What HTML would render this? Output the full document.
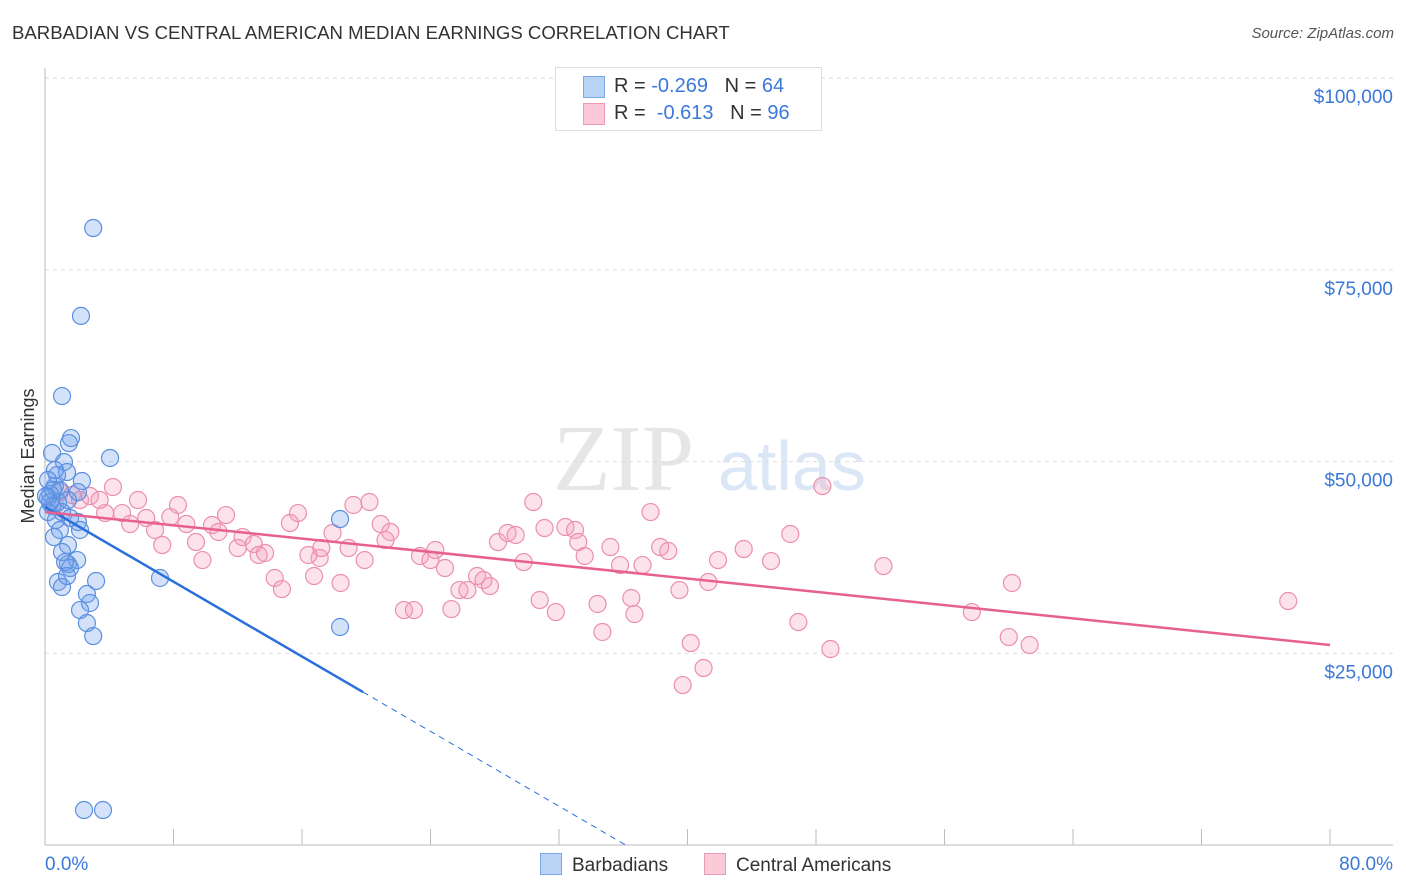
<!DOCTYPE html>
<html><head><meta charset="utf-8"><style>
body{margin:0;background:#fff;font-family:"Liberation Sans",sans-serif}
#wrap{position:relative;width:1406px;height:892px}
.t{position:absolute;white-space:nowrap}
</style></head><body>
<div id="wrap">
<div class="t" style="left:12px;top:22px;font-size:18.6px;color:#333">BARBADIAN VS CENTRAL AMERICAN MEDIAN EARNINGS CORRELATION CHART</div>
<div class="t" style="right:12px;top:25px;font-size:15px;color:#555;font-style:italic">Source: ZipAtlas.com</div>
<svg id="svg" width="1406" height="892" style="position:absolute;left:0;top:0"></svg>
</div>
<script>
const yTicks=[25000,50000,75000,100000];
const yTickLabels=["$25,000","$50,000","$75,000","$100,000"];
const xTickLabels=["0.0%","80.0%"];
const blueX=[3.0,2.24,1.06,1.62,1.49,4.05,0.44,1.18,1.37,0.75,2.30,0.62,0.93,0.31,2.05,0.19,0.81,1.43,0.44,1.06,0.19,0.68,1.56,2.05,0.93,0.56,2.18,1.43,1.06,2.0,1.43,1.56,1.25,3.18,0.81,1.06,1.37,2.61,2.80,2.18,2.61,3.0,7.16,18.37,18.37,2.43,3.61,0.62,0.19,0.31,0.5,0.06];
const blueY=[80460,69000,58550,53070,52420,50470,51120,49950,48640,48250,47470,46810,46290,45770,46030,45250,44730,44990,44210,43420,43420,42380,42640,42120,41080,40160,41080,39120,38210,37160,36640,36120,36900,34430,34300,33640,35080,32730,31560,30640,28950,27250,34820,42510,28430,4560,4560,48900,47600,44700,46300,45500];
const pinkX=[4.23,5.79,8.28,11.27,15.75,19.2,20.2,30.4,37.7,48.4,2.8,3.74,4.8,5.3,6.3,6.85,7.8,8.8,7.3,9.4,10.4,10.8,12.0,12.3,13.0,13.3,13.7,9.8,15.25,17.1,16.4,17.2,17.9,18.9,19.9,20.9,21.5,21.2,14.3,14.75,16.75,18.4,22.35,22.97,23.35,24.0,24.3,24.9,25.3,25.8,26.3,26.9,27.3,27.7,28.2,28.8,29.3,29.8,30.8,31.1,31.8,32.4,33.0,33.2,33.6,34.4,34.7,35.2,35.8,36.5,36.7,37.2,38.3,38.8,39.5,40.2,41.0,39.7,41.3,41.9,43.5,45.2,46.4,46.9,48.9,52.2,57.7,60.0,60.2,61.3,77.4,0.93,1.68,2.18,0.62,3.4];
const pinkY=[46680,44990,44340,43030,43290,44340,44730,44730,43420,46810,45510,43290,43290,41860,42640,41080,42770,41860,39120,39510,41730,40820,38730,40160,39250,37820,38080,37160,41990,37430,37820,38730,40690,38730,37160,41860,40820,39770,34820,33380,35080,34170,30640,30640,37690,37160,38470,36120,30770,33250,33250,35080,34560,33770,39510,40690,40430,36900,31950,41340,30380,41470,41080,39510,37690,31430,27780,38860,36510,32210,30120,36510,38860,38340,33250,26340,23080,20860,34300,37160,38600,37030,40560,29080,25560,36380,30380,27120,34170,26080,31820,46030,45640,44990,44340,45000];
const blueTrend=[44100,-1220];
const pinkTrend=[43420,-216.7];
const blueSolidEnd=19.8;

const NS="http://www.w3.org/2000/svg";
const svg=document.getElementById('svg');
const X=v=>45+v*(1285/80);
const Y=v=>845-v*(191.7/25000);
function mk(tag,a){const e=document.createElementNS(NS,tag);for(const k in a)e.setAttribute(k,a[k]);svg.appendChild(e);return e;}
let w=mk('text',{x:553,y:490,'font-size':94,'font-family':'Liberation Serif,serif',fill:'#e6e6e6'});w.textContent='ZIP';


let w2=mk('text',{x:718,y:490,'font-size':70,'font-family':'Liberation Sans,sans-serif',fill:'#dbe7f6'});w2.textContent='atlas';


yTicks.forEach((t,i)=>{
 const g=mk('line',{x1:45,x2:1393,y1:Y(t),y2:Y(t),stroke:'#ddd','stroke-dasharray':'4,4'});
 
 
 const l=mk('text',{x:1393,y:Y(t)+25,'text-anchor':'end','font-size':19,fill:'#3b78d8'});l.textContent=yTickLabels[i];
 
 
});
const topG=mk('line',{x1:45,x2:1393,y1:78,y2:78,stroke:'#ddd','stroke-dasharray':'4,4'});


const ya=mk('line',{x1:45,x2:45,y1:68,y2:845,stroke:'#bbb'});


const xa=mk('line',{x1:45,x2:1393,y1:845,y2:845,stroke:'#bbb'});


for(let i=0;i<=10;i++){const tk=mk('line',{x1:X(i*8),x2:X(i*8),y1:829,y2:845,stroke:'#bbb'});
 
 }
const xl0=mk('text',{x:45,y:870,'font-size':19,fill:'#3b78d8'});xl0.textContent=xTickLabels[0];


const xl1=mk('text',{x:1393,y:870,'text-anchor':'end','font-size':19,fill:'#3b78d8'});xl1.textContent=xTickLabels[1];


const yt=mk('text',{x:34,y:456,'font-size':18,fill:'#333','text-anchor':'middle',transform:'rotate(-90 34 456)'});yt.textContent='Median Earnings';


pinkX.forEach((x,i)=>{const c=mk('circle',{cx:X(x),cy:Y(pinkY[i]),r:8.5,fill:'rgba(245,160,185,0.3)',stroke:'#eb8fae','stroke-width':1.2});
 
 });
blueX.forEach((x,i)=>{const c=mk('circle',{cx:X(x),cy:Y(blueY[i]),r:8.5,fill:'rgba(110,160,235,0.3)',stroke:'#5b8fe0','stroke-width':1.2});
 
 });
const bz=-blueTrend[0]/blueTrend[1];
const bl=mk('line',{x1:X(0),y1:Y(blueTrend[0]),x2:X(blueSolidEnd),y2:Y(blueTrend[0]+blueTrend[1]*blueSolidEnd),stroke:'#2a6fdb','stroke-width':2.5});


const bd=mk('line',{x1:X(blueSolidEnd),y1:Y(blueTrend[0]+blueTrend[1]*blueSolidEnd),x2:X(bz),y2:Y(0),stroke:'#2a6fdb','stroke-width':1,'stroke-dasharray':'6,5'});


const pl=mk('line',{x1:X(0),y1:Y(pinkTrend[0]),x2:X(80),y2:Y(pinkTrend[0]+pinkTrend[1]*80),stroke:'#e8608f','stroke-width':2.5});


</script>
<div class="t" style="left:555px;top:67px;width:265px;height:62px;border:1px solid #ddd;background:#fff;font-size:20px;color:#333">
 <div style="position:absolute;left:27px;top:8px;width:20px;height:20px;background:#b9d3f5;border:1px solid #7aa7e6"></div>
 <div style="position:absolute;left:58px;top:7px">R = <span style="color:#3b78d8">-0.269</span>&nbsp;&nbsp;&nbsp;N = <span style="color:#3b78d8">64</span></div>
 <div style="position:absolute;left:27px;top:35px;width:20px;height:20px;background:#fbcad8;border:1px solid #ec9ab5"></div>
 <div style="position:absolute;left:58px;top:34px">R = &nbsp;<span style="color:#3b78d8">-0.613</span>&nbsp;&nbsp;&nbsp;N = <span style="color:#3b78d8">96</span></div>
</div>
<div class="t" style="left:540px;top:853px;font-size:19px;color:#333"><span style="display:inline-block;width:20px;height:20px;background:#b9d3f5;border:1px solid #7aa7e6;vertical-align:-4px;margin-right:10px"></span>Barbadians</div>
<div class="t" style="left:704px;top:853px;font-size:19px;color:#333"><span style="display:inline-block;width:20px;height:20px;background:#fbcad8;border:1px solid #ec9ab5;vertical-align:-4px;margin-right:10px"></span>Central Americans</div>
</body></html>
